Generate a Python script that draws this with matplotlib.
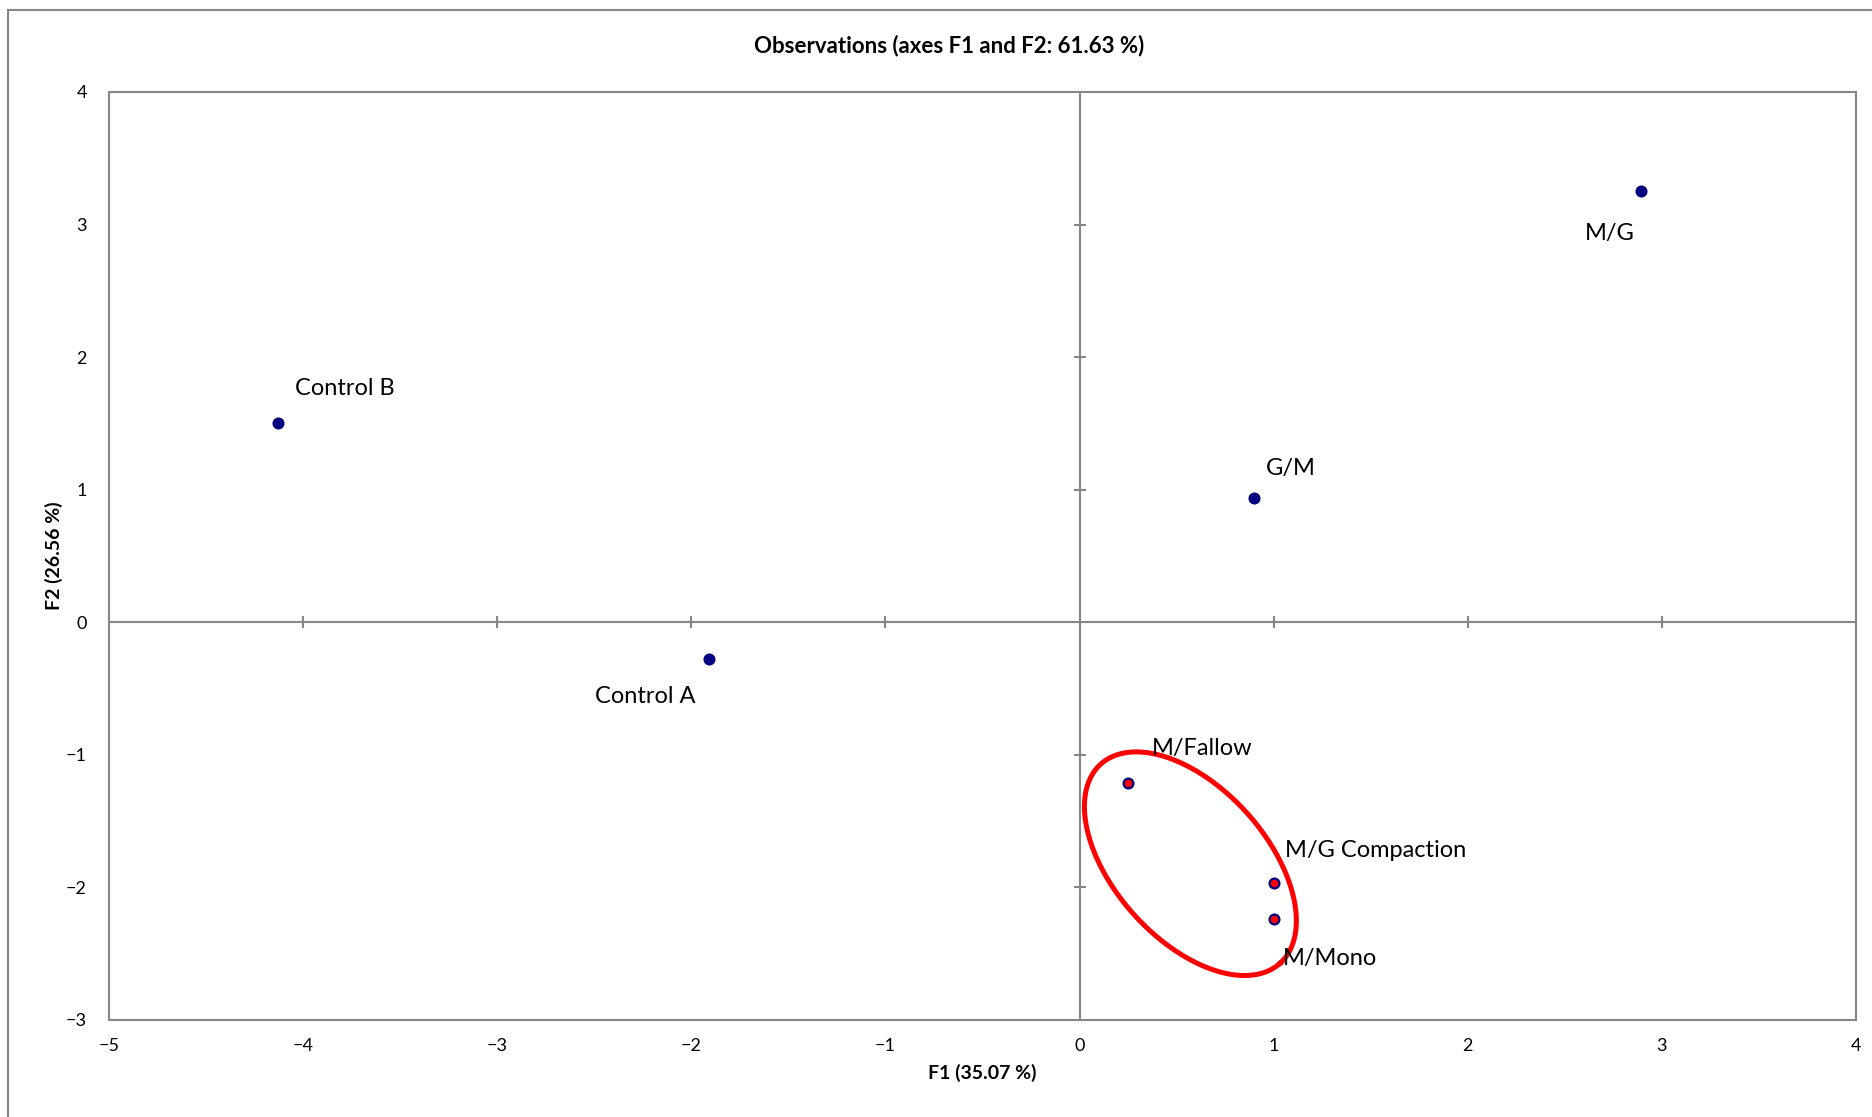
import numpy as np
import matplotlib
matplotlib.use("Agg")
import matplotlib.pyplot as plt
from matplotlib.lines import Line2D

plt.rcParams["font.family"] = ["Lato", "DejaVu Sans"]

# PCA observation scores on the first two factors
labels = ["Control B", "Control A", "G/M", "M/G", "M/Fallow", "M/G Compaction", "M/Mono"]
f1 = [-4.13, -1.91, 0.90, 2.89, 0.25, 1.00, 1.00]
f2 = [1.50, -0.28, 0.94, 3.25, -1.21, -1.97, -2.24]
grouped = [False, False, False, False, True, True, True]

# label offsets from each point, in pixels, with horizontal alignment
label_offsets = [(17, 35, "left"), (-64, -37, "center"), (12, 29, "left"),
                 (-31, -42, "center"), (24, 34, "left"), (11, 33, "left"),
                 (9, -39, "left")]

xticks = [-5, -4, -3, -2, -1, 0, 1, 2, 3, 4]
yticks = [-3, -2, -1, 0, 1, 2, 3, 4]

fig = plt.figure(figsize=(18.72, 11.17), dpi=100)
ax = fig.add_axes([109 / 1872, 97 / 1117, 1747 / 1872, 928 / 1117])
ax.set_xlim(-5, 4)
ax.set_ylim(-3, 4)

grey = "#868686"
for s in ax.spines.values():
    s.set_color(grey)
    s.set_linewidth(1.5)

ax.set_xticks(xticks)
ax.set_yticks(yticks)
ax.tick_params(length=0, labelsize=13, pad=16)
ax.tick_params(axis="x", pad=13)

# zero axes with their own tick marks
ax.axhline(0, color=grey, lw=1.5, zorder=1)
ax.axvline(0, color=grey, lw=1.5, zorder=1)
ax.plot([t for t in xticks[1:-1] if t != 0], [0] * 7, ls="none", marker="|",
        ms=9, mew=1.5, color=grey, zorder=1)
ax.plot([0] * 5, [t for t in yticks[1:-1] if t != 0], ls="none", marker="_",
        ms=9, mew=1.5, color=grey, zorder=1)

for x, y, g, name, (dx, dy, ha) in zip(f1, f2, grouped, labels, label_offsets):
    face = "#ff0000" if g else "#000080"
    ax.scatter(x, y, s=50, color=face, edgecolors="#000080", linewidths=1.6, zorder=3)
    ax.annotate(name, (x, y), xytext=(dx, dy), textcoords="offset pixels",
                ha=ha, va="center", fontsize=17, color="black")

# ellipse around the grouped treatments, drawn in screen proportions
fig.canvas.draw()
px_x = ax.bbox.width / 9.0
px_y = ax.bbox.height / 7.0
cx, cy = 0.571, -1.821
a_px, b_px, ang = 134, 76, np.deg2rad(-48)
t = np.linspace(0, 2 * np.pi, 300)
ex = a_px * np.cos(t) * np.cos(ang) - b_px * np.sin(t) * np.sin(ang)
ey = a_px * np.cos(t) * np.sin(ang) + b_px * np.sin(t) * np.cos(ang)
ax.plot(cx + ex / px_x, cy + ey / px_y, color="#ff0000", lw=3.6, zorder=2)

ax.set_xlabel("F1 (35.07 %)", fontsize=14, fontweight="bold", labelpad=7)
ax.set_ylabel("F2 (26.56 %)", fontsize=14, fontweight="bold", labelpad=2)
fig.text(949 / 1872, 1 - 46 / 1117, "Observations (axes F1 and F2: 61.63 %)",
         ha="center", va="center", fontsize=16, fontweight="bold")

# outer chart border (top and left edges)
fig.add_artist(Line2D([8 / 1872, 1], [1 - 10 / 1117] * 2, color=grey, lw=1.5))
fig.add_artist(Line2D([8 / 1872] * 2, [0, 1 - 10 / 1117], color=grey, lw=1.5))

fig.savefig("out.png", dpi=100)
